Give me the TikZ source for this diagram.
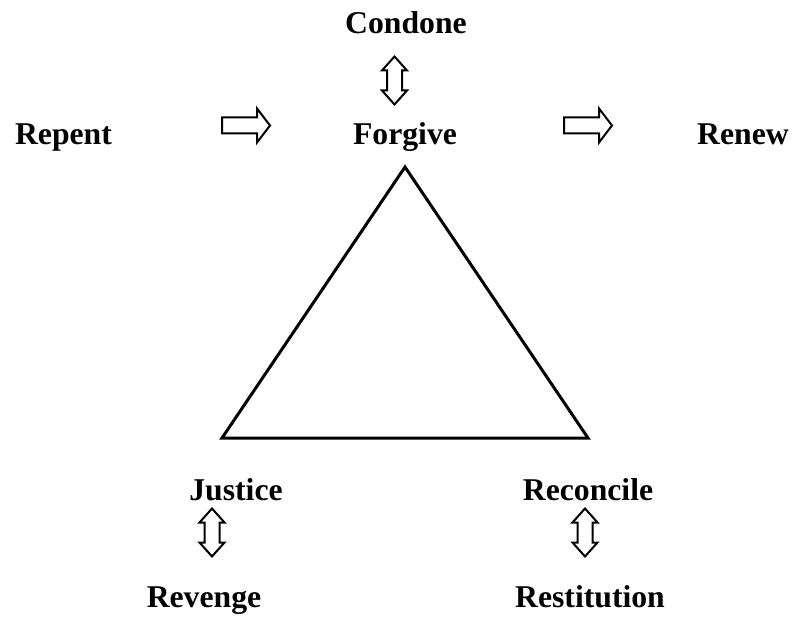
\documentclass[tikz,border=0pt]{standalone}
\usepackage{fontspec}
\setmainfont{Liberation Serif}
\usetikzlibrary{positioning}

\tikzset{
  word/.style={font=\fontsize{31.7}{36}\selectfont\bfseries, anchor=base, inner sep=0pt},
  blockline/.style={draw=black, line width=2pt, line join=miter, fill=white},
  rarrow/.pic={\draw[blockline] (0,-8) -- (35,-8) -- (35,-17) -- (48,0) -- (35,17) -- (35,8) -- (0,8) -- cycle;},
  udarrow/.pic={\draw[blockline] (-7.5,-10) -- (-7.5,10) -- (-12.5,10) -- (0,24) -- (12.5,10) -- (7.5,10) -- (7.5,-10) -- (12.5,-10) -- (0,-24) -- (-12.5,-10) -- (-7.5,-10) -- cycle;}
}

\begin{document}
\begin{tikzpicture}[x=1pt, y=-1pt]
\useasboundingbox (0,0) rectangle (795,617);
% top row
\node[word] (condone) at (406,34) {Condone};
\node[word] (repent) at (63.5,145) {Repent};
\node[word] (forgive) at (405,145) {Forgive};
\node[word] (renew) at (743,145) {Renew};
% bottom labels
\node[word] (justice) at (236,500) {Justice};
\node[word] (reconcile) at (588,500) {Reconcile};
\node[word] (revenge) at (204,607) {Revenge};
\node[word] (restitution) at (590,607) {Restitution};
% block arrows
\pic at (394.5,80.5) {udarrow};
\pic at (222,125.5) {rarrow};
\pic at (564,125.5) {rarrow};
\pic at (212,532.5) {udarrow};
\pic at (585,532.5) {udarrow};
% triangle
\coordinate (apex) at (405,167);
\coordinate (left) at (222,438);
\coordinate (right) at (588,438);
\draw[line width=3pt, line join=miter] (apex) -- (left) -- (right) -- cycle;
\end{tikzpicture}
\end{document}
